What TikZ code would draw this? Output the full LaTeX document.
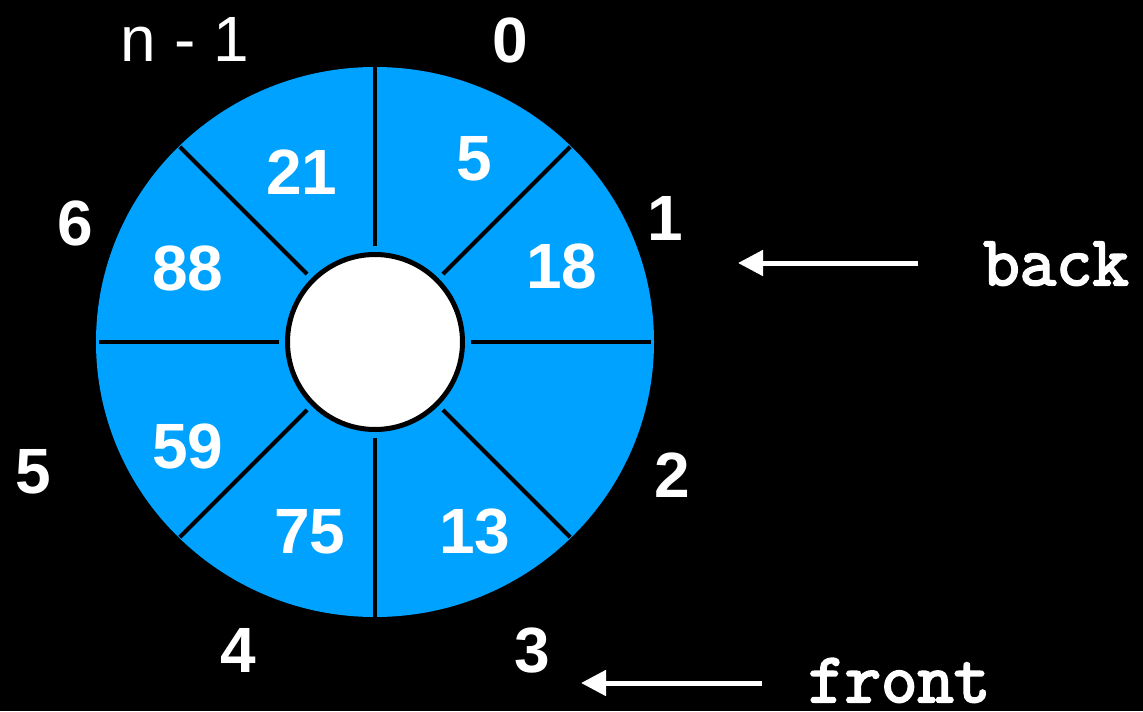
\documentclass[tikz,border=0pt]{standalone}
\usepackage{fontspec}
\setmainfont{Liberation Sans}
\newfontfamily\courlike{Latin Modern Mono}[FakeBold=3]
\usetikzlibrary{arrows.meta}
\definecolor{cellblue}{RGB}{0,162,255}
\begin{document}
\begin{tikzpicture}[x=0.75pt,y=-0.75pt,
  num/.style={text=white,font=\fontsize{48}{48}\selectfont\bfseries,anchor=base,inner sep=0pt},
  idxreg/.style={text=white,font=\fontsize{48}{48}\selectfont,anchor=base,inner sep=0pt},
  ptrlabel/.style={text=white,font=\fontsize{53}{53}\selectfont\courlike,anchor=base west,inner sep=0pt},
  divider/.style={draw=black,line width=3pt},
  hub/.style={circle,fill=white,draw=black,line width=3.75pt,minimum size=131.25pt,inner sep=0pt},
  ptrarrow/.style={draw=white,line width=3.75pt,-{Triangle[length=18.75pt,width=18.75pt]}}]
\fill[black] (0,0) rectangle (1143,711);
\useasboundingbox (0,0) rectangle (1143,711);
% ring
\fill[cellblue] (375,342) ellipse [x radius=209.25pt, y radius=206.25pt];
\foreach \a in {0,45,...,315}
  \draw[divider] (375,342) ++(\a:96) -- ++(\a:180);
\node[hub] (center) at (375,342) {};
% values
\node[num] (v0) at (474,180) {5};
\node[num] (v1) at (562,288) {18};
\node[num] (v3) at (475,553) {13};
\node[num] (v4) at (310,553) {75};
\node[num] (v5) at (188,468) {59};
\node[num] (v6) at (188,290) {88};
\node[num] (v7) at (302,194) {21};
% indices
\node[num] (i0) at (510,62) {0};
\node[num] (i1) at (665,240) {1};
\node[num] (i2) at (672,497) {2};
\node[num] (i3) at (532,672) {3};
\node[num] (i4) at (238,672) {4};
\node[num] (i5) at (33,493) {5};
\node[num] (i6) at (75,245) {6};
\node[idxreg] (in1) at (185,61) {n - 1};
% pointers
\node[ptrlabel] (back) at (983,285) {back};
\node[ptrlabel] (front) at (808,702) {front};
\coordinate (backtail) at (918,263);
\coordinate (backtip) at (738,263);
\coordinate (fronttail) at (762,683);
\coordinate (fronttip) at (581,683);
\draw[ptrarrow] (backtail) -- (backtip);
\draw[ptrarrow] (fronttail) -- (fronttip);
\end{tikzpicture}
\end{document}
